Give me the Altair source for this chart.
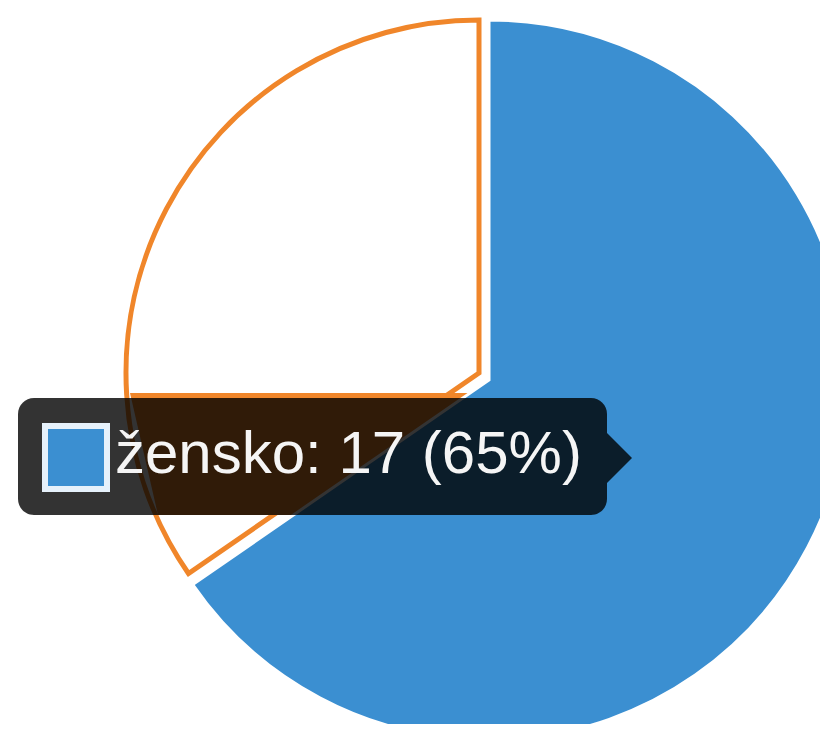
import math
import altair as alt
import pandas as pd

# ---- data ----
categories = ["žensko", "moško"]
counts = [17, 9]
slice_fill = ["#3b8fd1", "#ffffff"]
slice_stroke = ["#ffffff", "#f0862a"]

total = sum(counts)
hover = 0
label = f"{categories[hover]}: {counts[hover]} ({round(100 * counts[hover] / total)}%)"

W, H = 812, 716
xs = alt.Scale(domain=[8, 8 + W], nice=False, zero=False)
ys = alt.Scale(domain=[8 + H, 8], nice=False, zero=False)
ts = alt.Scale(domain=[0, 1], range=[0, 2 * math.pi])

pie = pd.DataFrame({"category": categories, "count": counts, "order": list(range(len(categories)))})

base = (
    alt.Chart(pie)
    .transform_joinaggregate(total="sum(count)")
    .transform_window(cum="sum(count)", sort=[alt.SortField(field="order")], frame=[None, 0])
    .transform_calculate(t0="(datum.cum - datum.count) / datum.total", t1="datum.cum / datum.total")
)


def wedge(i, cx, cy, r, sw):
    return (
        base.transform_filter(alt.datum.category == categories[i])
        .mark_arc(radius=r, fill=slice_fill[i], stroke=slice_stroke[i], strokeWidth=sw)
        .encode(
            x=alt.XDatum(cx, type="quantitative", scale=xs, axis=None),
            y=alt.YDatum(cy, type="quantitative", scale=ys, axis=None),
            theta=alt.Theta("t0:Q", scale=ts, stack=None),
            theta2="t1:Q",
        )
    )


one = alt.Data(values=[{}])

orange_wedge = wedge(1, 479, 373, 353, 5)

band = alt.Chart(
    pd.DataFrame({"yy": [393, 515], "xl": [130, 158], "xr": [480, 480]})
).mark_area(orient="horizontal", color=slice_stroke[1]).encode(
    y=alt.Y("yy:Q", scale=ys, axis=None),
    x=alt.X("xl:Q", scale=xs, axis=None),
    x2="xr:Q",
)

blue_wedge = wedge(0, 489, 380, 360, 3)

tip_box = alt.Chart(one).mark_rect(cornerRadius=16, fill="black", fillOpacity=0.8).encode(
    x=alt.XDatum(18, type="quantitative", scale=xs, axis=None),
    x2=alt.X2Datum(607),
    y=alt.YDatum(398, type="quantitative", scale=ys, axis=None),
    y2=alt.Y2Datum(515),
)

tip_arrow = alt.Chart(one).mark_point(
    shape="M0,-1L1,0L0,1Z", size=2500, filled=True, fill="black", fillOpacity=0.8, strokeWidth=0
).encode(
    x=alt.XDatum(607, type="quantitative", scale=xs, axis=None),
    y=alt.YDatum(458, type="quantitative", scale=ys, axis=None),
)

swatch = alt.Chart(one).mark_rect(fill=slice_fill[hover], stroke="#e6f1fb", strokeWidth=6).encode(
    x=alt.XDatum(45, type="quantitative", scale=xs, axis=None),
    x2=alt.X2Datum(107),
    y=alt.YDatum(426, type="quantitative", scale=ys, axis=None),
    y2=alt.Y2Datum(489),
)

text = alt.Chart(one).mark_text(
    text=label, font="Liberation Sans", fontSize=60, color="#f5f5f5", align="left", baseline="alphabetic"
).encode(
    x=alt.XDatum(115, type="quantitative", scale=xs, axis=None),
    y=alt.YDatum(473, type="quantitative", scale=ys, axis=None),
)

chart = (
    alt.layer(orange_wedge, band, blue_wedge, tip_box, tip_arrow, swatch, text)
    .properties(width=W, height=H, padding=0, autosize=alt.AutoSizeParams(type="none"), background="white")
    .configure_view(stroke=None)
)

chart.save("out.html", embed_options={"renderer": "svg", "actions": False})
